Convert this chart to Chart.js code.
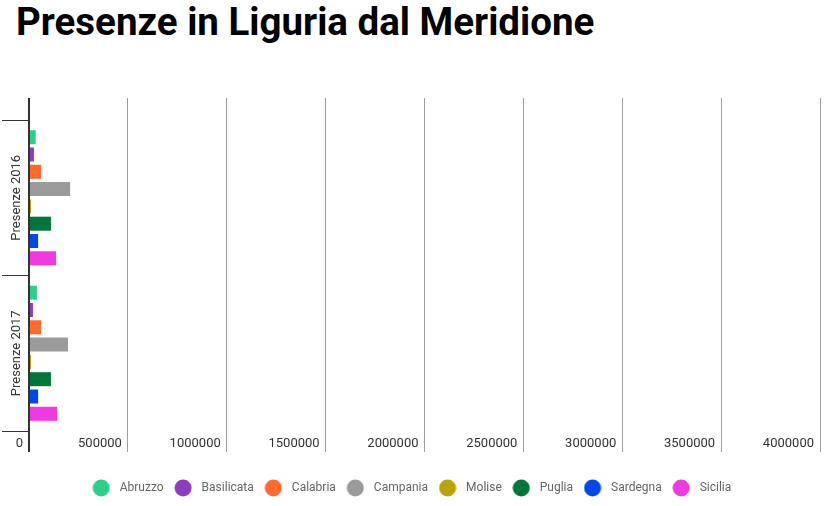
<!DOCTYPE html>
<html>
<head>
<meta charset="utf-8">
<script src="https://cdn.jsdelivr.net/npm/chart.js@4.4.1/dist/chart.umd.min.js"></script>
<style>
  html, body { margin: 0; padding: 0; background: #fff; }
  #wrap { position: relative; width: 826px; height: 506px; }
  h1 {
    position: absolute; left: 16px; top: 0; margin: 0;
    font-family: Roboto, sans-serif; font-weight: bold; font-size: 38.5px;
    line-height: 44px; color: #000;
  }
  canvas { position: absolute; left: 0; top: 0; }
</style>
</head>
<body>
<div id="wrap">
  <h1>Presenze in Liguria dal Meridione</h1>
  <canvas id="myChart" width="826" height="506"></canvas>
</div>
<script>
const years = ["Presenze 2016", "Presenze 2017"]

const regions = ["Abruzzo", "Basilicata", "Calabria", "Campania", "Molise", "Puglia", "Sardegna", "Sicilia"]
const colors = ["#2bd18b", "#8e3cc0", "#ff6a2e", "#9b9b9b", "#b8a300", "#00763a", "#0047ee", "#ee3adf"]

// presenze per regione: [2016, 2017]
const abruzzo = [34000, 40000]
const basilicata = [25000, 20000]
const calabria = [61000, 61000]
const campania = [208000, 197000]
const molise = [10000, 10000]
const puglia = [111000, 111000]
const sardegna = [46000, 46000]
const sicilia = [137000, 142000]

const values = [abruzzo, basilicata, calabria, campania, molise, puglia, sardegna, sicilia]

const xTicks = [0, 500000, 1000000, 1500000, 2000000, 2500000, 3000000, 3500000, 4000000]

Chart.defaults.font.family = "Roboto"

function gridColor(ctx) {
    return ctx.tick && ctx.tick.value === 0 ? "#333" : "#9e9e9e"
}
function gridWidth(ctx) {
    return ctx.tick && ctx.tick.value === 0 ? 2 : 1
}

// round legend markers, drawn as small canvases
function makeDot(color) {
    var c = document.createElement('canvas')
    c.width = 18
    c.height = 18
    var g = c.getContext('2d')
    g.fillStyle = color
    g.beginPath()
    g.arc(9, 9, 8.5, 0, Math.PI * 2)
    g.fill()
    return c
}
var dots = colors.map(makeDot)

var datasets = []
for (let i = 0; i < regions.length; i++) {
    datasets.push({
        label: regions[i],
        backgroundColor: colors[i],
        borderWidth: 0,
        data: values[i]
    })
}

var ctx = document.getElementById('myChart').getContext('2d');
var chart = new Chart(ctx, {
    type: 'bar',
    data: {
        labels: years,
        datasets: datasets
    },
    options: {
        responsive: false,
        animation: false,
        indexAxis: 'y',
        barPercentage: 0.81,
        categoryPercentage: 0.89,
        layout: { padding: { top: 98, right: 6, bottom: 2, left: 0 } },
        plugins: {
            tooltip: { enabled: false },
            legend: {
                position: 'bottom',
                labels: {
                    usePointStyle: true,
                    pointStyleWidth: 25,
                    color: '#666',
                    font: { size: 12 },
                    padding: 7,
                    generateLabels: function(chart) {
                        var items = Chart.defaults.plugins.legend.labels.generateLabels(chart)
                        items.forEach(function(it, i) { it.pointStyle = dots[i] })
                        return items
                    }
                }
            }
        },
        scales: {
            x: {
                min: 0,
                max: 4000000,
                afterBuildTicks: function(scale) {
                    scale.ticks = xTicks.map(v => ({ value: v }))
                },
                afterFit: function(scale) { scale.height = 44 },
                grid: { color: gridColor, lineWidth: gridWidth, tickLength: 21 },
                border: { display: false },
                ticks: {
                    align: 'end',
                    labelOffset: -6,
                    padding: -16,
                    color: '#333',
                    font: { size: 13 },
                    maxRotation: 0,
                    callback: function(v) { return String(v) }
                }
            },
            x2: {
                position: 'top',
                axis: 'x',
                min: 0,
                max: 4000000,
                afterBuildTicks: function(scale) {
                    scale.ticks = xTicks.map(v => ({ value: v }))
                },
                afterFit: function(scale) { scale.height = 22 },
                grid: { color: gridColor, lineWidth: gridWidth, tickLength: 22, drawOnChartArea: false },
                border: { display: false },
                ticks: { display: false }
            },
            y: {
                z: 1,
                afterFit: function(scale) { scale.width = 29 },
                grid: { color: '#333', drawOnChartArea: false, tickLength: 27 },
                border: { display: true, color: '#333', width: 2 },
                ticks: {
                    minRotation: 90,
                    maxRotation: 90,
                    crossAlign: 'center',
                    padding: -57.5,
                    color: '#333',
                    font: { size: 13 }
                }
            }
        }
    }
});
</script>
</body>
</html>
